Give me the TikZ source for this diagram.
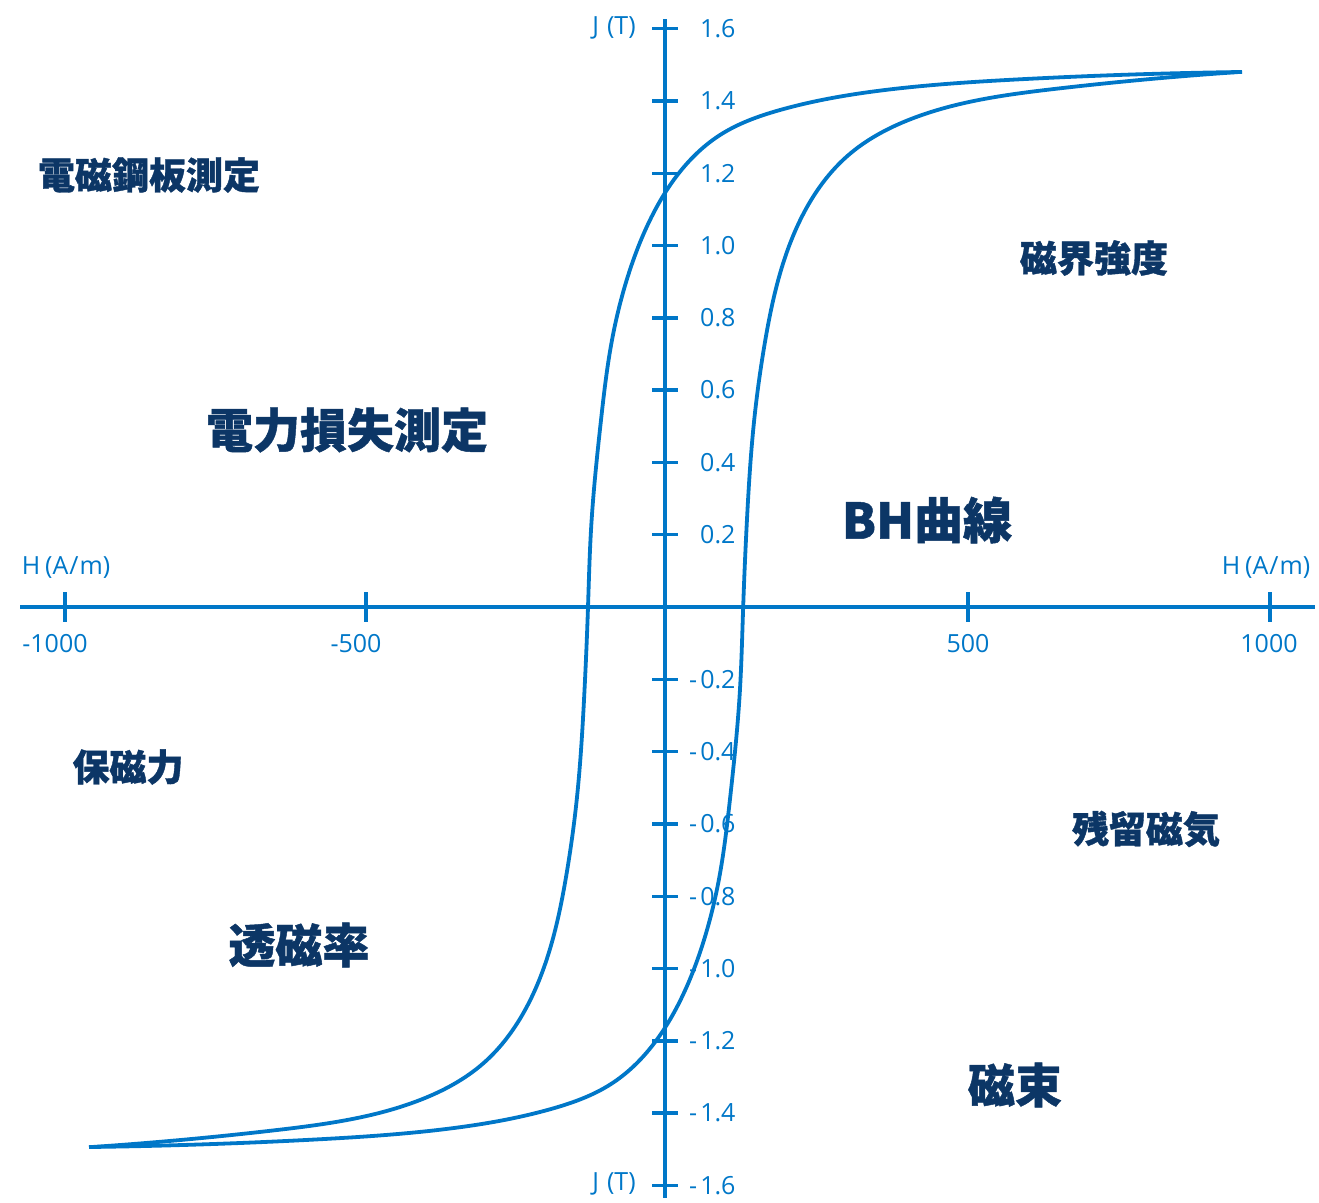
\documentclass[tikz,border=0pt]{standalone}
\usepackage{fontspec}
\usetikzlibrary{hobby}
\setmainfont{Open Sans}
\newfontfamily\cjk{Noto Sans CJK JP}[BoldFeatures={FakeBold=1}]
\definecolor{axisblue}{RGB}{0,119,200}
\definecolor{navy}{RGB}{12,54,102}
\begin{document}
\begin{tikzpicture}[x=1pt,y=-1pt,
  ax/.style={draw=axisblue,line width=3.4pt},
  tk/.style={draw=axisblue,line width=3.4pt},
  curve/.style={draw=axisblue,line width=3.8pt,line join=round},
  num/.style={text=axisblue,inner sep=0pt,font=\fontsize{25}{25}\selectfont},
  lbl/.style={text=navy,inner sep=0pt,font=\cjk\bfseries\fontsize{37}{37}\selectfont},
  biglbl/.style={text=navy,inner sep=0pt,font=\cjk\bfseries\fontsize{47}{47}\selectfont}]
\useasboundingbox (0,0) rectangle (1319,1202);
% axes
\coordinate (xl) at (20,607);
\coordinate (xr) at (1315,607);
\coordinate (yt) at (665,19);
\coordinate (yb) at (665,1198);
\draw[ax] (xl) -- (xr);
\draw[ax] (yt) -- (yb);
% x ticks
\foreach \px in {65,366,968,1270}{
  \draw[tk] (\px,592) -- (\px,622);
}
\node[num] (xm1000) at (55,644) {-1000};
\node[num] (xm500) at (356,644) {-500};
\node[num] (xp500) at (968,644) {500};
\node[num] (xp1000) at (1269,644) {1000};
% y ticks
\foreach \v/\lab in {1.6/1.6,1.4/1.4,1.2/1.2,1.0/1.0,0.8/0.8,0.6/0.6,0.4/0.4,0.2/0.2}{
  \draw[tk] (652,{607-\v*361.5}) -- (678,{607-\v*361.5});
  \node[num,anchor=west] at (700,{607-\v*361.5}) {\lab};
}
\foreach \v/\lab in {0.2/0.2,0.4/0.4,0.6/0.6,0.8/0.8,1.0/1.0,1.2/1.2,1.4/1.4,1.6/1.6}{
  \draw[tk] (652,{607+\v*361.5}) -- (678,{607+\v*361.5});
  \node[num,anchor=west] at (689,{607+\v*361.5}) {-\kern3pt\lab};
}
% axis names
\node[num] (hl) at (66,568) {H\kern5pt(A\kern1pt/\kern1pt m)};
\node[num] (hr) at (1266,568) {H\kern5pt(A\kern1pt/\kern1pt m)};
\node[num] (jt) at (614,28) {J\kern8pt(T)};
\node[num] (jb) at (614,1184) {J\kern8pt(T)};
% hysteresis loop: one branch and its point reflection
\def\branch{(1242,72) .. (1016,79.5) .. (885,90) .. (780,110) .. (720,135)
 .. (680,171.7) .. (650,220) .. (626.7,280) .. (612,340) .. (601,420)
 .. (591,530) .. (588,607) .. (584,700) .. (576.7,800) .. (566.7,873)
 .. (551.7,943) .. (526.7,1007) .. (483.3,1063.3) .. (420,1100)
 .. (277,1130) .. (92,1147)}
\draw[curve,use Hobby shortcut] \branch;
\begin{scope}[rotate around={180:(665.5,609.5)}]
\draw[curve,use Hobby shortcut] \branch;
\end{scope}
% labels
\node[lbl] (l1) at (149,175) {電磁鋼板測定};
\node[lbl] (l2) at (1094,258) {磁界強度};
\node[biglbl] (l3) at (347,430) {電力損失測定};
\node[biglbl,font=\cjk\bfseries\fontsize{49}{49}\selectfont] (l4) at (927,520) {BH曲線};
\node[lbl] (l5) at (128,767) {保磁力};
\node[lbl] (l6) at (1146,829) {残留磁気};
\node[biglbl] (l7) at (299,945) {透磁率};
\node[biglbl] (l8) at (1015,1085) {磁束};
\end{tikzpicture}
\end{document}
